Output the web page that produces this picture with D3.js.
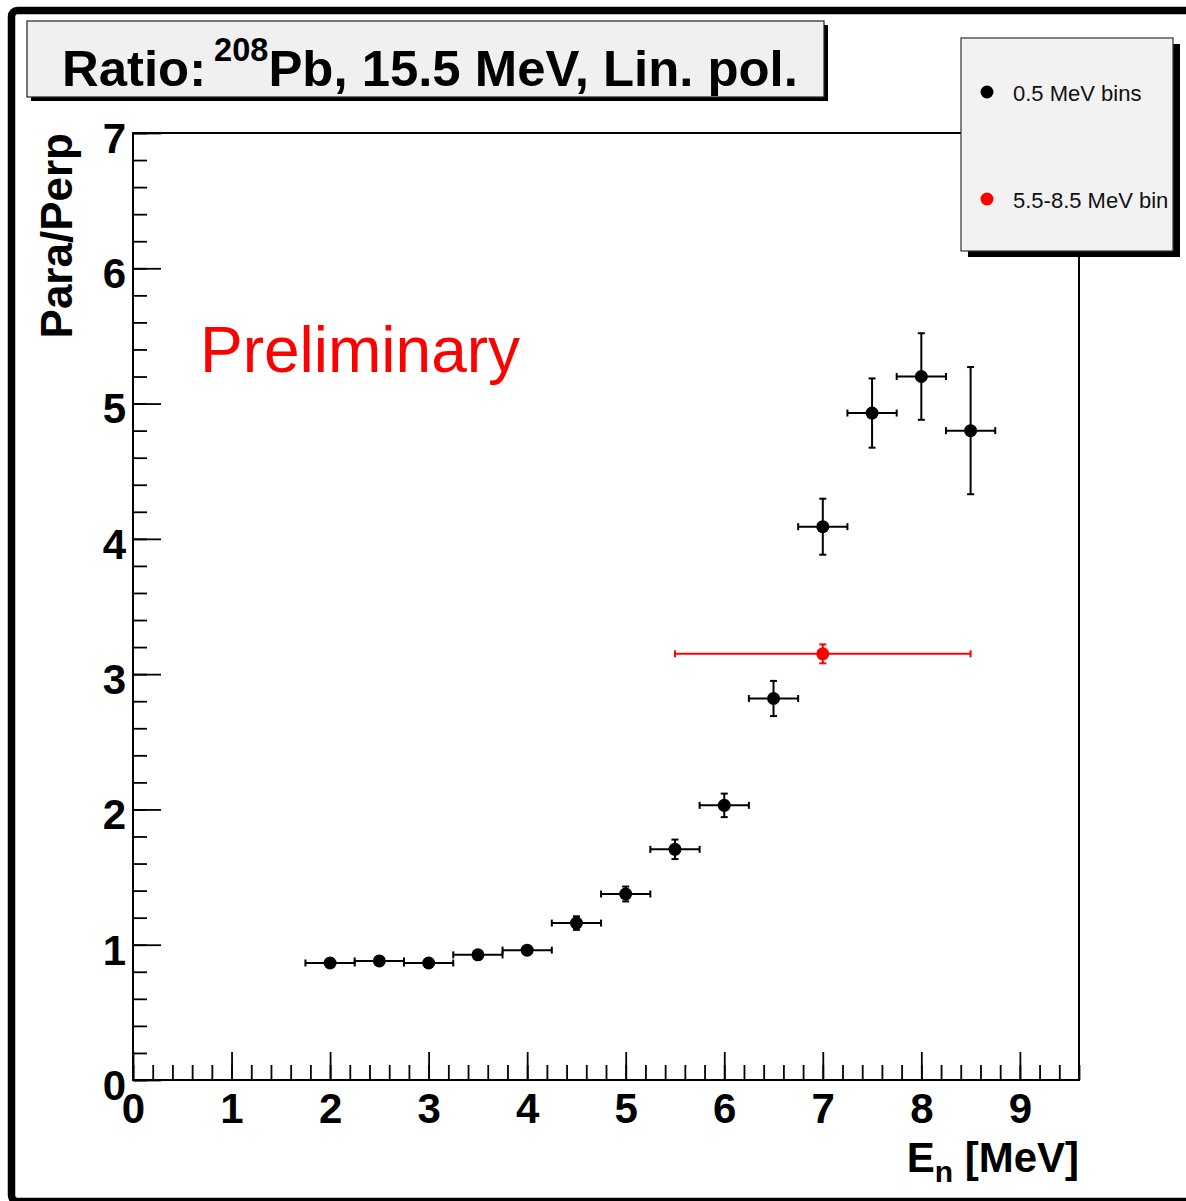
<!DOCTYPE html>
<html>
<head>
<meta charset="utf-8">
<script src="https://cdn.jsdelivr.net/npm/d3@7"></script>
<style>
  html, body { margin: 0; padding: 0; background: #fff; }
  svg { display: block; }
  text { font-family: "Liberation Sans", Arial, Helvetica, sans-serif; }
</style>
</head>
<body>
<svg id="chart" width="1186" height="1201"></svg>
<script>
// Neutron energy bin centres [MeV] and the para/perp yield ratio per 0.5 MeV bin
const energies = [2, 2.5, 3, 3.5, 4, 4.5, 5, 5.5, 6, 6.5, 7, 7.5, 8, 8.5];
const ratios   = [0.865, 0.88, 0.865, 0.925, 0.96, 1.16, 1.375, 1.705, 2.03, 2.82, 4.09, 4.93, 5.20, 4.80];
const ratioErr = [0.025, 0.025, 0.025, 0.025, 0.025, 0.05, 0.055, 0.072, 0.087, 0.13, 0.207, 0.256, 0.32, 0.47];
const binHalfWidth = [0.25, 0.25, 0.25, 0.25, 0.25, 0.25, 0.25, 0.25, 0.25, 0.25, 0.25, 0.25, 0.25, 0.25];

// Single wide bin covering 5.5-8.5 MeV
const wideEnergy = [7];
const wideRatio = [3.15];
const wideErr = [0.07];
const wideHalfWidth = [1.5];

const xTicks = [0, 1, 2, 3, 4, 5, 6, 7, 8, 9];
const yTicks = [0, 1, 2, 3, 4, 5, 6, 7];
const legendLabels = ["0.5 MeV bins", "5.5-8.5 MeV bin"];
const legendColors = ["#000000", "#ff0000"];

const svg = d3.select("#chart");

// Canvas border
svg.append("rect")
  .attr("x", 11.5).attr("y", 10.5)
  .attr("width", 1186).attr("height", 1191)
  .attr("rx", 6)
  .attr("fill", "#fff").attr("stroke", "#000").attr("stroke-width", 7.5);

const plot = { left: 133, right: 1079, top: 133, bottom: 1080 };
const x = d3.scaleLinear().domain([0, 9.6]).range([plot.left, plot.right]);
const y = d3.scaleLinear().domain([0, 7]).range([plot.bottom, plot.top]);

// Axes: major ticks with labels, minor ticks every 0.2
const tickFont = "bold 42px 'Liberation Sans', Arial, sans-serif";

const xMinor = d3.range(0, 9.61, 0.2).map(v => +v.toFixed(1));
const yMinor = d3.range(0, 7.01, 0.2).map(v => +v.toFixed(1));

const gxMinor = svg.append("g").attr("transform", `translate(0,${plot.bottom})`)
  .call(d3.axisBottom(x).tickValues(xMinor).tickSize(-15).tickFormat(""));
const gx = svg.append("g").attr("transform", `translate(0,${plot.bottom})`)
  .call(d3.axisBottom(x).tickValues(xTicks).tickSize(-28).tickPadding(13).tickFormat(d3.format("d")));
const gyMinor = svg.append("g").attr("transform", `translate(${plot.left},0)`)
  .call(d3.axisLeft(y).tickValues(yMinor).tickSize(-14).tickFormat(""));
const gy = svg.append("g").attr("transform", `translate(${plot.left},0)`)
  .call(d3.axisLeft(y).tickValues(yTicks).tickSize(-28).tickPadding(7).tickFormat(d3.format("d")));

[gxMinor, gx, gyMinor, gy].forEach(g => {
  g.select(".domain").remove();
  g.selectAll(".tick line").attr("stroke", "#000").attr("stroke-width", 1.8);
  g.selectAll(".tick text").attr("fill", "#000").style("font", tickFont);
});
gy.selectAll(".tick text").attr("dy", "0.46em");

// Plot frame
svg.append("rect")
  .attr("x", plot.left).attr("y", plot.top)
  .attr("width", plot.right - plot.left).attr("height", plot.bottom - plot.top)
  .attr("fill", "none").attr("stroke", "#000").attr("stroke-width", 2);

// Axis titles
svg.append("text")
  .attr("transform", `translate(72,${plot.top}) rotate(-90)`)
  .attr("text-anchor", "end")
  .style("font", "bold 44px 'Liberation Sans', Arial, sans-serif")
  .text("Para/Perp");

const xTitle = svg.append("text")
  .attr("x", plot.right).attr("y", 1172)
  .attr("text-anchor", "end")
  .style("font", "bold 42px 'Liberation Sans', Arial, sans-serif");
xTitle.append("tspan").text("E");
xTitle.append("tspan").attr("dy", 10).style("font-size", "30px").text("n");
xTitle.append("tspan").attr("dy", -10).text(" [MeV]");

// Watermark
svg.append("text")
  .attr("x", 200).attr("y", 372)
  .attr("fill", "#ff0000")
  .style("font", "64px 'Liberation Sans', Arial, sans-serif")
  .text("Preliminary");

// Error-bar points
function drawSeries(xs, ys, yerr, xerr, color) {
  const cap = 3.5;
  const g = svg.append("g").attr("stroke", color).attr("stroke-width", 2).attr("fill", color);
  xs.forEach((xv, i) => {
    const cx = x(xv), cy = y(ys[i]);
    const x0 = x(xv - xerr[i]), x1 = x(xv + xerr[i]);
    const y0 = y(ys[i] - yerr[i]), y1 = y(ys[i] + yerr[i]);
    g.append("line").attr("x1", x0).attr("x2", x1).attr("y1", cy).attr("y2", cy);
    g.append("line").attr("x1", x0).attr("x2", x0).attr("y1", cy - cap).attr("y2", cy + cap);
    g.append("line").attr("x1", x1).attr("x2", x1).attr("y1", cy - cap).attr("y2", cy + cap);
    g.append("line").attr("x1", cx).attr("x2", cx).attr("y1", y0).attr("y2", y1);
    g.append("line").attr("x1", cx - cap).attr("x2", cx + cap).attr("y1", y0).attr("y2", y0);
    g.append("line").attr("x1", cx - cap).attr("x2", cx + cap).attr("y1", y1).attr("y2", y1);
    g.append("circle").attr("cx", cx).attr("cy", cy).attr("r", 6.5).attr("stroke", "none");
  });
}
drawSeries(energies, ratios, ratioErr, binHalfWidth, legendColors[0]);
drawSeries(wideEnergy, wideRatio, wideErr, wideHalfWidth, legendColors[1]);

// Title box
const tb = { x: 27, y: 21, w: 797, h: 76 };
svg.append("rect").attr("x", tb.x + 4).attr("y", tb.y + 4).attr("width", tb.w).attr("height", tb.h).attr("fill", "#000");
svg.append("rect").attr("x", tb.x).attr("y", tb.y).attr("width", tb.w).attr("height", tb.h)
  .attr("fill", "#f0f0f0").attr("stroke", "#222").attr("stroke-width", 1.2);
const title = svg.append("text")
  .attr("x", 62).attr("y", 86)
  .style("font", "bold 50px 'Liberation Sans', Arial, sans-serif");
title.append("tspan").text("Ratio:");
title.append("tspan").attr("dx", 8).attr("dy", -25).style("font-size", "32px").text("208");
title.append("tspan").attr("dy", 25).text("Pb, 15.5 MeV, Lin. pol.");
// Fit title width to the box
const tw = title.node().getComputedTextLength();
const target = 728;
if (tw > 0) {
  const s = 50 * target / tw;
  title.style("font-size", s + "px");
  title.select("tspan:nth-child(2)").style("font-size", (32 * s / 50) + "px");
}

// Legend
const lg = { x: 961, y: 38, w: 212, h: 213 };
svg.append("rect").attr("x", lg.x + 7).attr("y", lg.y + 6).attr("width", lg.w).attr("height", lg.h).attr("fill", "#000");
svg.append("rect").attr("x", lg.x).attr("y", lg.y).attr("width", lg.w).attr("height", lg.h)
  .attr("fill", "#f2f2f2").attr("stroke", "#333").attr("stroke-width", 1.2);
const legendY = [92, 199];
legendLabels.forEach((lab, i) => {
  svg.append("circle").attr("cx", 987).attr("cy", legendY[i]).attr("r", 6.5).attr("fill", legendColors[i]);
  svg.append("text").attr("x", 1013).attr("y", legendY[i] + 8.5)
    .style("font", "22px 'Liberation Sans', Arial, sans-serif")
    .attr("fill", "#111")
    .text(lab);
});
</script>
</body>
</html>
